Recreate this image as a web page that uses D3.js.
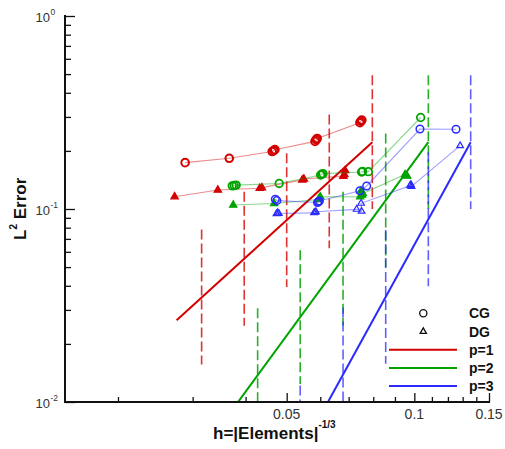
<!DOCTYPE html>
<html><head><meta charset="utf-8">
<script src="https://cdn.jsdelivr.net/npm/d3@7"></script>
<style>body{margin:0;background:#fff} svg{display:block}</style>
</head><body><svg id="c" width="505" height="449"></svg>
<script>
// ---------- data ----------
const xTicksMajor = [0.05, 0.1, 0.15];
const xTickLabels = ["0.05", "0.1", "0.15"];
const xTicksMinor = [0.02, 0.03, 0.04, 0.06, 0.07, 0.08, 0.09, 0.11, 0.12, 0.13, 0.14];
const yTicksMajor = [0.01, 0.1, 1];
const yTickExponents = ["-2", "-1", "0"];
const yTicksMinor = [0.02,0.03,0.04,0.05,0.06,0.07,0.08,0.09,0.2,0.3,0.4,0.5,0.6,0.7,0.8,0.9];

const redCG_h = [0.0288, 0.0366, 0.0462, 0.0466, 0.0469, 0.0583, 0.0587, 0.0590, 0.0744, 0.0748, 0.0752];
const redCG_e = [0.1738, 0.1831, 0.1985, 0.2010, 0.2030, 0.2240, 0.2285, 0.2320, 0.2800, 0.2850, 0.2890];
const redDG_h = [0.0272, 0.0344, 0.0432, 0.0437, 0.0544, 0.0549, 0.0680, 0.0684, 0.0687];
const redDG_e = [0.1158, 0.1254, 0.1280, 0.1290, 0.1415, 0.1430, 0.1480, 0.1510, 0.1583];
const greenCG_h = [0.0372, 0.0376, 0.0380, 0.0480, 0.0601, 0.0605, 0.0609, 0.0751, 0.0755, 0.0779, 0.1035];
const greenCG_e = [0.1318, 0.1324, 0.1330, 0.1356, 0.1500, 0.1513, 0.1525, 0.1555, 0.1565, 0.1561, 0.2979];
const greenDG_h = [0.0374, 0.0467, 0.0594, 0.0597, 0.0600, 0.0745, 0.0749, 0.0753, 0.0756, 0.0951, 0.0956, 0.0962];
const greenDG_e = [0.1049, 0.1068, 0.1120, 0.1140, 0.1155, 0.1158, 0.1244, 0.1182, 0.1203, 0.1510, 0.1490, 0.1480];
const blueCG_h = [0.0470, 0.0474, 0.0591, 0.0594, 0.0597, 0.0744, 0.0772, 0.1031, 0.1254];
const blueCG_e = [0.1123, 0.1105, 0.1080, 0.1091, 0.1100, 0.1244, 0.1316, 0.2597, 0.2588];
const blueDG_h = [0.0473, 0.0476, 0.0479, 0.0580, 0.0583, 0.0586, 0.0731, 0.0751, 0.0749, 0.0977, 0.0981, 0.0985, 0.1282];
const blueDG_e = [0.0945, 0.0955, 0.0948, 0.0955, 0.0961, 0.0968, 0.0996, 0.0973, 0.1070, 0.1320, 0.1340, 0.1310, 0.2128];

// reference slope lines (endpoints)
const refP1_h = [0.0275, 0.0796], refP1_e = [0.0265, 0.222];
const refP2_h = [0.0382, 0.1079], refP2_e = [0.00985, 0.222];
const refP3_h = [0.0627, 0.1358], refP3_e = [0.01009, 0.222];

// vertical dashed bars: h, low, high
const dashP1_h = [0.0315, 0.0397, 0.05, 0.063, 0.0796];
const dashP1_lo = [0.01564, 0.0248, 0.0394, 0.0626, 0.0999];
const dashP1_hi = [0.0782, 0.1228, 0.1947, 0.309, 0.4935];
const dashP2_h = [0.0427, 0.0538, 0.0679, 0.0856, 0.1079];
const dashP2_lo = [0.00619, 0.01238, 0.02489, 0.0499, 0.0999];
const dashP2_hi = [0.0306, 0.0612, 0.123, 0.2464, 0.4935];
const dashP3_h = [0.0538, 0.0679, 0.0856, 0.1079, 0.1358];
const dashP3_lo = [0.00246, 0.00624, 0.01576, 0.0398, 0.0999];
const dashP3_hi = [0.01216, 0.03085, 0.0779, 0.1967, 0.4935];

const legendLabels = ["CG", "DG", "p=1", "p=2", "p=3"];

// ---------- drawing ----------
const svg = d3.select("#c");
const L = 65, R = 489, T = 16, B = 402;
const x = d3.scaleLog().domain([0.015, 0.15]).range([L, R]);
const y = d3.scaleLog().domain([0.01, 1]).range([B, T]);
const FONT = "'Liberation Sans', Arial, Helvetica, sans-serif";

const RED = "#d40000", GREEN = "#00a300", BLUE = "#2a2aff";

svg.append("defs").append("clipPath").attr("id", "clip")
  .append("rect").attr("x", L).attr("y", T).attr("width", R - L).attr("height", B - T);
const plot = svg.append("g").attr("clip-path", "url(#clip)");

const zip = (a, b) => a.map((v, i) => [v, b[i]]);
const line = d3.line().x(d => x(d[0])).y(d => y(d[1]));

// dashed bars
function dashes(hs, lo, hi, col, op) {
  plot.append("g").selectAll("line").data(hs.map((h, i) => [h, lo[i], hi[i]])).join("line")
    .attr("x1", d => x(d[0])).attr("x2", d => x(d[0]))
    .attr("y1", d => y(d[2])).attr("y2", d => y(d[1]))
    .attr("stroke", col).attr("stroke-opacity", op).attr("stroke-width", 1.6)
    .attr("stroke-dasharray", "10,4");
}
dashes(dashP1_h, dashP1_lo, dashP1_hi, RED, 0.8);
dashes(dashP2_h, dashP2_lo, dashP2_hi, GREEN, 0.85);
dashes(dashP3_h, dashP3_lo, dashP3_hi, BLUE, 0.75);

// reference lines
[[refP1_h, refP1_e, RED], [refP2_h, refP2_e, GREEN], [refP3_h, refP3_e, BLUE]].forEach(([h, e, c]) => {
  plot.append("path").attr("d", line(zip(h, e))).attr("fill", "none")
    .attr("stroke", c).attr("stroke-width", 2);
});

// series
function series(h, e, col, kind, filled, sw) {
  const pts = zip(h, e);
  plot.append("path").attr("d", line(pts)).attr("fill", "none")
    .attr("stroke", col).attr("stroke-opacity", 0.45).attr("stroke-width", 1.1);
  const g = plot.append("g");
  if (kind === "CG") {
    g.selectAll("circle").data(pts).join("circle")
      .attr("cx", d => x(d[0])).attr("cy", d => y(d[1])).attr("r", 3.8)
      .attr("fill", "none").attr("stroke", col).attr("stroke-width", sw);
  } else {
    const tri = d3.symbol().type(d3.symbolTriangle).size(filled ? 24 : 19);
    g.selectAll("path").data(pts).join("path")
      .attr("d", tri).attr("transform", d => `translate(${x(d[0])},${y(d[1])})`)
      .attr("fill", filled ? col : "none").attr("stroke", col).attr("stroke-width", sw);
  }
}
series(redCG_h, redCG_e, RED, "CG", false, 2);
series(redDG_h, redDG_e, RED, "DG", true, 1.2);
series(greenCG_h, greenCG_e, GREEN, "CG", false, 1.8);
series(greenDG_h, greenDG_e, GREEN, "DG", true, 1.1);
series(blueCG_h, blueCG_e, BLUE, "CG", false, 1.5);
series(blueDG_h, blueDG_e, BLUE, "DG", false, 1.2);

// axes
const ax = svg.append("g").attr("transform", `translate(0,${B})`);
ax.call(d3.axisBottom(x).tickValues(xTicksMinor).tickSize(-5).tickFormat(""));
ax.call(g => g.selectAll(".domain").remove());
const ax2 = svg.append("g").attr("transform", `translate(0,${B})`);
ax2.call(d3.axisBottom(x).tickValues(xTicksMajor).tickSize(-9).tickFormat(""));
ax2.call(g => g.selectAll(".domain").remove());

const ay = svg.append("g").attr("transform", `translate(${L},0)`);
ay.call(d3.axisLeft(y).tickValues(yTicksMinor).tickSize(-6).tickFormat(""));
ay.call(g => g.selectAll(".domain").remove());
const ay2 = svg.append("g").attr("transform", `translate(${L},0)`);
ay2.call(d3.axisLeft(y).tickValues(yTicksMajor).tickSize(-10).tickFormat(""));
ay2.call(g => g.selectAll(".domain").remove());
svg.selectAll(".tick line").attr("stroke", "#111").attr("stroke-width", 1.3);

svg.append("line").attr("x1", L).attr("x2", R + 1).attr("y1", B).attr("y2", B)
  .attr("stroke", "#111").attr("stroke-width", 2);
svg.append("line").attr("x1", L).attr("x2", L).attr("y1", T - 1).attr("y2", B + 1)
  .attr("stroke", "#111").attr("stroke-width", 2);

// tick labels
svg.append("g").selectAll("text").data(xTicksMajor).join("text")
  .attr("x", d => x(d)).attr("y", B + 17).attr("text-anchor", "middle")
  .attr("font-family", FONT).attr("font-size", 14).attr("fill", "#333")
  .text((d, i) => xTickLabels[i]);
yTicksMajor.forEach((v, i) => {
  svg.append("text").attr("x", 50).attr("y", y(v) + 5.5).attr("text-anchor", "end")
    .attr("font-family", FONT).attr("font-size", 13).attr("fill", "#333").text("10");
  svg.append("text").attr("x", 50.5).attr("y", y(v) - 1.5).attr("text-anchor", "start")
    .attr("font-family", FONT).attr("font-size", 8.5).attr("fill", "#333").text(yTickExponents[i]);
});

// axis titles
const xt = svg.append("text").attr("x", 213).attr("y", 439)
  .attr("font-family", FONT).attr("font-size", 17).attr("font-weight", "bold").attr("fill", "#111");
xt.append("tspan").text("h=|Elements|");
xt.append("tspan").attr("font-size", 10).attr("dy", -11).text("-1/3");

const yt = svg.append("text").attr("transform", "translate(25.5,240) rotate(-90)")
  .attr("font-family", FONT).attr("font-size", 17).attr("font-weight", "bold").attr("fill", "#111");
yt.append("tspan").text("L");
yt.append("tspan").attr("font-size", 10).attr("dy", -9).text("2");
yt.append("tspan").attr("dy", 9).text(" Error");

// legend
const lg = svg.append("g");
lg.append("circle").attr("cx", 423.3).attr("cy", 313.3).attr("r", 3.6)
  .attr("fill", "none").attr("stroke", "#111").attr("stroke-width", 1.3);
lg.append("path").attr("d", d3.symbol().type(d3.symbolTriangle).size(17))
  .attr("transform", "translate(423.3,331.5)")
  .attr("fill", "none").attr("stroke", "#111").attr("stroke-width", 1.3);
[RED, GREEN, BLUE].forEach((c, i) => {
  const yy = 349.7 + i * 18.2;
  lg.append("line").attr("x1", 389).attr("x2", 457).attr("y1", yy).attr("y2", yy)
    .attr("stroke", c).attr("stroke-width", 2);
});
legendLabels.forEach((t, i) => {
  const yy = [313.3, 331.5, 349.7, 367.9, 386.1][i];
  lg.append("text").attr("x", 469).attr("y", yy + 5).attr("font-family", FONT)
    .attr("font-size", 14).attr("font-weight", "bold").attr("fill", "#111").text(t);
});
</script>
</body></html>
